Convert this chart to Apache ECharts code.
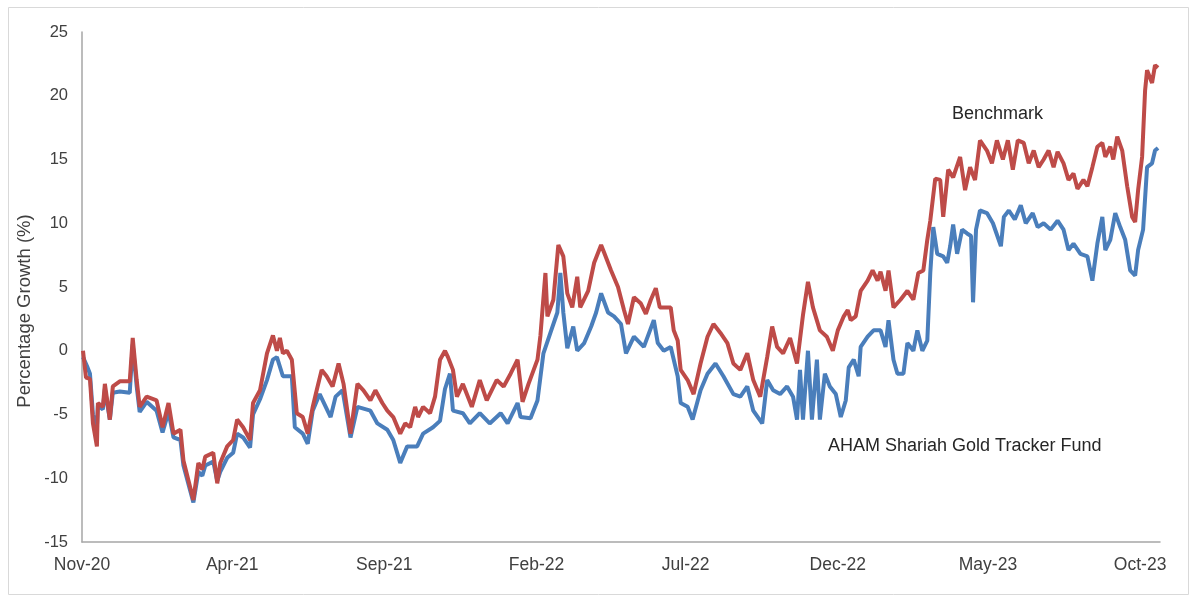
<!DOCTYPE html>
<html>
<head>
<meta charset="utf-8">
<script src="https://cdn.jsdelivr.net/npm/echarts@6/dist/echarts.min.js"></script>
<style>
html,body{margin:0;padding:0;background:#fff;}
#chart{width:1192px;height:598px;}
</style>
</head>
<body>
<div id="chart"></div>
<script>
// x = days since 1 Nov 2020
const startDate = '2020-11-01';
const tickDates = ['2020-11-01','2021-04-01','2021-09-01','2022-02-01','2022-07-01','2022-12-01','2023-05-01','2023-10-01'];
const yTicks = [-15,-10,-5,0,5,10,15,20,25];

const fundDays = [1,5,8,11,15,16,21,23,28,31,38,48,51,55,58,65,75,81,87,92,99,102,112,117,121,124,132,136,139,146,152,156,162,169,172,179,186,192,196,202,211,214,222,227,232,239,250,255,262,270,277,290,297,307,313,320,327,337,343,353,360,365,370,373,383,390,400,410,421,428,438,441,451,458,464,471,478,481,484,488,494,498,505,512,517,522,529,535,542,547,555,565,575,579,585,592,599,602,609,614,622,629,637,645,655,662,669,675,684,689,695,702,709,715,719,722,725,730,734,739,742,747,752,758,763,768,771,776,781,783,790,796,803,808,811,816,820,826,830,836,840,845,850,853,856,860,866,870,873,876,880,885,890,894,896,899,903,910,916,924,927,932,938,944,949,956,961,967,974,981,987,992,997,1004,1011,1016,1021,1026,1029,1034,1039,1044,1049,1054,1059,1062,1067,1071,1076,1079,1082];
const fundValues = [-0.5,-1.2,-1.8,-5.0,-6.0,-4.3,-4.6,-3.0,-5.4,-3.3,-3.2,-3.3,0.5,-2.8,-4.8,-4.0,-4.7,-6.4,-4.8,-6.8,-7.0,-9.0,-11.9,-9.5,-9.8,-9.0,-8.7,-10.2,-9.5,-8.4,-8.0,-6.5,-6.8,-7.6,-5.0,-3.8,-2.3,-0.7,-0.5,-2.0,-2.0,-6.0,-6.5,-7.3,-4.7,-3.4,-5.2,-3.6,-3.1,-6.8,-4.4,-4.7,-5.7,-6.2,-7.0,-8.8,-7.5,-7.5,-6.5,-6.0,-5.5,-3.0,-1.8,-4.7,-4.9,-5.7,-4.9,-5.7,-4.9,-5.7,-4.1,-5.2,-5.3,-3.9,-0.2,1.4,3.0,6.1,3.0,0.2,1.9,0.0,0.6,1.9,3.0,4.5,3.0,2.7,2.1,-0.2,1.1,0.3,2.4,0.6,0.0,0.3,-2.0,-4.1,-4.4,-5.4,-3.1,-1.8,-1.0,-2.0,-3.4,-3.6,-2.8,-4.7,-5.7,-2.3,-3.1,-3.4,-2.8,-3.6,-5.4,-1.5,-5.4,0.0,-5.4,-0.7,-5.4,-1.8,-2.8,-3.4,-5.2,-3.9,-1.3,-0.7,-2.0,0.3,1.1,1.6,1.6,0.3,2.4,-0.7,-1.8,-1.8,0.6,0.0,1.6,0.0,0.8,6.1,9.7,7.6,7.4,6.9,8.2,9.9,7.6,9.5,9.2,9.0,3.8,9.5,11.0,10.8,10.0,8.2,10.5,11.0,10.3,11.4,10.0,10.8,9.7,10.0,9.5,10.2,9.5,7.9,8.4,7.6,7.4,5.5,8.4,10.5,7.9,8.7,10.8,9.7,8.7,6.3,5.9,7.9,9.5,14.4,14.7,15.7,15.9];

const benchDays = [1,4,8,11,15,16,21,23,28,31,38,48,51,55,58,65,75,81,87,92,99,102,112,117,121,124,132,136,139,146,152,156,162,169,172,179,186,192,196,199,202,206,211,216,222,227,232,236,241,246,252,258,263,270,277,283,290,295,302,307,313,320,325,330,335,338,343,350,355,360,365,368,373,377,383,392,400,407,417,424,431,438,443,449,458,461,466,468,474,479,484,488,493,498,501,509,515,522,525,532,539,545,549,555,562,567,572,577,581,592,595,599,602,609,615,622,629,635,642,649,655,662,669,675,682,689,694,699,705,712,719,725,730,735,742,749,755,760,766,770,773,778,783,790,795,800,803,808,811,816,823,830,836,841,846,850,853,858,863,866,871,876,883,888,893,898,903,910,915,920,926,931,936,941,947,952,957,962,967,972,977,981,987,992,997,1001,1007,1011,1016,1021,1026,1029,1034,1037,1041,1046,1051,1056,1059,1062,1066,1069,1071,1076,1079,1082];
const benchValues = [0.0,-2.1,-2.2,-5.7,-7.5,-4.1,-4.4,-2.6,-5.4,-2.8,-2.4,-2.4,1.0,-2.3,-4.4,-3.6,-3.9,-6.0,-4.1,-6.5,-6.2,-8.6,-11.7,-8.8,-9.3,-8.3,-8.0,-10.4,-8.8,-7.5,-7.0,-5.4,-6.0,-7.0,-4.1,-3.1,-0.2,1.2,0.0,1.0,-0.2,0.0,-0.7,-4.9,-5.2,-6.5,-4.4,-3.1,-1.5,-2.0,-2.8,-1.0,-2.6,-6.5,-2.6,-3.1,-3.9,-3.1,-4.1,-4.7,-5.2,-6.5,-5.7,-6.0,-4.4,-5.2,-4.4,-4.9,-3.6,-0.7,0.0,-0.5,-1.5,-3.6,-2.6,-4.4,-2.3,-3.9,-2.3,-2.8,-1.8,-0.7,-4.0,-2.6,-0.7,1.2,6.1,2.7,4.0,8.3,7.4,4.5,3.4,5.8,3.4,4.7,6.9,8.3,7.7,6.3,5.0,3.2,2.1,4.2,3.7,2.9,4.0,4.9,3.4,3.4,1.6,0.8,-1.5,-2.3,-3.4,-1.0,1.1,2.1,1.4,0.6,-1.0,-1.5,-0.2,-2.3,-3.6,-0.5,1.9,0.3,-0.2,1.0,-1.0,2.8,5.4,3.4,1.6,1.1,0.0,1.6,2.7,3.2,2.4,2.7,4.7,5.5,6.3,5.5,6.2,4.7,6.3,3.4,4.0,4.7,4.0,6.1,6.3,8.7,10.2,13.5,13.4,10.5,14.2,13.6,15.2,12.6,14.4,13.4,16.5,15.7,14.7,16.5,15.0,16.5,14.2,16.5,16.3,14.7,15.7,14.4,15.0,15.7,14.4,15.6,14.7,13.4,13.9,12.7,13.4,12.9,14.4,16.0,16.3,15.2,16.0,15.0,16.8,15.7,12.9,10.5,10.1,12.6,15.2,20.4,22.0,21.0,22.4,22.2];

const MONTHS = ['Jan','Feb','Mar','Apr','May','Jun','Jul','Aug','Sep','Oct','Nov','Dec'];
const DAY = 86400000;
const t0 = Date.parse(startDate + 'T00:00:00Z');
const tickOffsets = tickDates.map(d => Math.round((Date.parse(d + 'T00:00:00Z') - t0) / DAY));
function fmtDay(v) {
  const d = new Date(t0 + Math.round(v) * DAY);
  return MONTHS[d.getUTCMonth()] + '-' + String(d.getUTCFullYear()).slice(2);
}
const zip = (xs, ys) => xs.map((x, i) => [x, ys[i]]);

const font = "'Liberation Sans', Arial, sans-serif";
const chart = echarts.init(document.getElementById('chart'));
chart.setOption({
  animation: false,
  backgroundColor: '#ffffff',
  grid: { left: 82, right: 32, top: 32, bottom: 56, containLabel: false },
  xAxis: {
    type: 'value', min: 0, max: 1084,
    axisLine: { show: true, onZero: false, lineStyle: { color: '#a6a6a6', width: 1.5 } },
    axisTick: { show: false },
    splitLine: { show: false },
    axisLabel: {
      customValues: tickOffsets,
      formatter: fmtDay,
      color: '#404040', fontSize: 17.5, fontFamily: font, margin: 14
    }
  },
  yAxis: {
    type: 'value', min: yTicks[0], max: yTicks[yTicks.length - 1], interval: 5,
    axisLine: { show: true, onZero: false, lineStyle: { color: '#a6a6a6', width: 1.5 } },
    axisTick: { show: false },
    splitLine: { show: false },
    axisLabel: { color: '#404040', fontSize: 16.5, fontFamily: font, margin: 14 }
  },
  series: [
    {
      name: 'AHAM Shariah Gold Tracker Fund', type: 'line', data: zip(fundDays, fundValues),
      showSymbol: false, symbol: 'none', lineStyle: { color: '#4a7ebb', width: 4 }, z: 2
    },
    {
      name: 'Benchmark', type: 'line', data: zip(benchDays, benchValues),
      showSymbol: false, symbol: 'none', lineStyle: { color: '#be4b48', width: 4 }, z: 3
    }
  ],
  graphic: [
    { type: 'rect', left: 6, top: 5, shape: { width: 1180, height: 587 }, style: { fill: 'none', stroke: '#d9d9d9', lineWidth: 1 }, silent: true },
    { type: 'text', x: 25, y: 311, rotation: Math.PI / 2, style: { text: 'Percentage Growth (%)', fill: '#404040', font: '18.5px ' + font, textAlign: 'center', textVerticalAlign: 'middle' } },
    { type: 'text', left: 952, top: 105, style: { text: 'Benchmark', fill: '#262626', font: '18px ' + font } },
    { type: 'text', left: 828, top: 437, style: { text: 'AHAM Shariah Gold Tracker Fund', fill: '#262626', font: '18px ' + font } }
  ]
});
</script>
</body>
</html>
